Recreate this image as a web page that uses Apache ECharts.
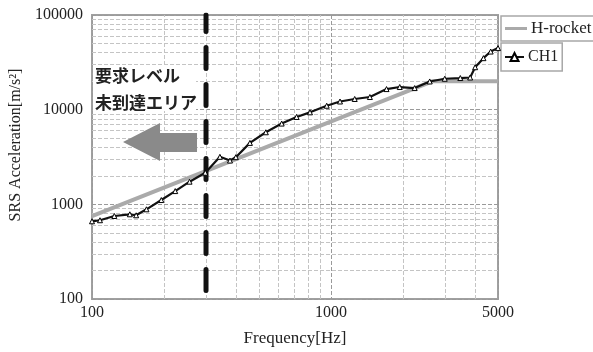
<!DOCTYPE html>
<html><head><meta charset="utf-8">
<script src="https://cdn.jsdelivr.net/npm/echarts@6/dist/echarts.min.js"></script>
<style>html,body{margin:0;padding:0;background:#fff}#c{width:593px;height:352px}</style>
</head><body><div id="c"></div>
<script>
// ---- data ----
const freqCH1 = [100, 108, 124, 144, 153, 169, 195, 223, 256, 298, 343, 378, 400, 458, 534, 622, 718, 817, 960, 1091, 1257, 1455, 1708, 1940, 2240, 2590, 2993, 3477, 3823, 4012, 4346, 4660, 5000];
const accCH1  = [662, 679, 753, 785, 766, 886, 1110, 1380, 1735, 2158, 3176, 2900, 3150, 4457, 5770, 7130, 8375, 9370, 11000, 12200, 12970, 13600, 16500, 17340, 16900, 19860, 21200, 21580, 21860, 28100, 35000, 41100, 44700];
const freqHR = [100, 2670, 5000];
const accHR  = [750, 20000, 20000];
const xTickLabels = [100, 1000, 5000];
const xMinor = [200, 300, 400, 500, 600, 700, 800, 900, 2000, 3000, 4000];
const yMinor = [200, 300, 400, 500, 600, 700, 800, 900, 2000, 3000, 4000, 5000, 6000, 7000, 8000, 9000, 20000, 30000, 40000, 50000, 60000, 70000, 80000, 90000];
const thresholdFreq = 300;
const noteLines = ['要求レベル', '未到達エリア'];
const seriesNames = ['H-rocket', 'CH1'];

// ---- chart ----
const chart = echarts.init(document.getElementById('c'), null, {renderer: 'canvas'});
const serif = '"Liberation Serif","Times New Roman",serif';
const zip = (xs, ys) => xs.map((x, i) => [x, ys[i]]);
const minorLines = xMinor.map(v => ({xAxis: v})).concat(yMinor.map(v => ({yAxis: v})));
const plain = v => String(Math.round(v));

const option = {
  animation: false,
  grid: {left: 92, right: 95, top: 15, bottom: 52, show: true, borderColor: '#a0a0a0', borderWidth: 2},
  xAxis: {
    type: 'log', logBase: 10, min: 100, max: 5000,
    axisLine: {show: false}, axisTick: {show: false},
    axisLabel: {customValues: xTickLabels, formatter: plain, fontFamily: serif, fontSize: 16, color: '#222', margin: 6},
    splitLine: {show: true, lineStyle: {color: '#9a9a9a', type: 'dashed', width: 1}},
    name: 'Frequency[Hz]', nameLocation: 'middle', nameGap: 31,
    nameTextStyle: {fontFamily: serif, fontSize: 17, color: '#222'}
  },
  yAxis: {
    type: 'log', logBase: 10, min: 100, max: 100000,
    axisLine: {show: false}, axisTick: {show: false},
    axisLabel: {formatter: plain, fontFamily: serif, fontSize: 16, color: '#222', margin: 9},
    splitLine: {show: true, lineStyle: {color: '#9a9a9a', type: 'dashed', width: 1}},
    name: 'SRS Acceleration[m/s²]', nameLocation: 'middle', nameGap: 68,
    nameTextStyle: {fontFamily: serif, fontSize: 16, color: '#222', padding: [0, 0, 0, 24]}
  },
  legend: [
    {data: [{name: seriesNames[0], icon: 'rect'}], left: 501, top: 16, orient: 'vertical', padding: [4, 8, 4, 4],
     borderColor: '#a8a8a8', borderWidth: 1.5, itemWidth: 22, itemHeight: 3, itemGap: 0,
     textStyle: {fontFamily: serif, fontSize: 17, color: '#222', padding: [0, 0, 0, -1]}},
    {data: [seriesNames[1]], left: 501, top: 43, orient: 'vertical', padding: [6, 4, 6, 3],
     borderColor: '#a8a8a8', borderWidth: 1.5, itemWidth: 19, itemHeight: 10, itemGap: 0,
     textStyle: {fontFamily: serif, fontSize: 16, color: '#222', padding: [0, 0, 0, -1]}}
  ],
  series: [
    {
      name: 'minor-grid', type: 'line', data: [], silent: true, z: 0,
      markLine: {silent: true, symbol: ['none', 'none'], label: {show: false}, z: 0,
        lineStyle: {color: '#c4c4c4', type: 'dashed', width: 1}, data: minorLines}
    },
    {
      name: seriesNames[0], type: 'line', data: zip(freqHR, accHR), symbol: 'none', z: 2,
      color: '#aaaaaa', itemStyle: {color: '#aaaaaa'}, lineStyle: {color: '#aaaaaa', width: 4}
    },
    {
      name: 'threshold', type: 'line', data: [[thresholdFreq, 100], [thresholdFreq, 100000]], symbol: 'none', z: 3, silent: true,
      lineStyle: {color: '#111', width: 5, type: [21, 16], dashOffset: 28.5, cap: 'round'}
    },
    {
      name: seriesNames[1], type: 'line', data: zip(freqCH1, accCH1), z: 4,
      symbol: 'triangle', symbolSize: 5, showAllSymbol: true,
      itemStyle: {color: '#fff', borderColor: '#000', borderWidth: 1},
      lineStyle: {color: '#111', width: 2.2}
    }
  ]
};
chart.setOption(option);

// annotation graphics, anchored to the threshold line position
const thr = chart.convertToPixel({gridIndex: 0}, [thresholdFreq, 100]);
const gl = chart.convertToPixel({gridIndex: 0}, [100, 100]);
const tx = thr[0];
const ay = 142;
chart.setOption({
  graphic: [
    {type: 'rect', shape: {x: gl[0] + 1, y: 66, width: tx - 11 - gl[0], height: 45}, style: {fill: '#fff'}, z: 1},
    {type: 'text', left: gl[0] + 3, top: 62, z: 5,
     style: {text: noteLines.join('\n'), fontFamily: '"Noto Sans CJK JP"', fontWeight: 'bold', fontSize: 17, lineHeight: 27, fill: '#222'}},
    {type: 'polygon', z: 5,
     shape: {points: [[tx - 83, ay], [tx - 46, ay - 19], [tx - 46, ay - 9], [tx - 9, ay - 9], [tx - 9, ay + 10], [tx - 46, ay + 10], [tx - 46, ay + 19]]},
     style: {fill: '#8a8a8a'}}
  ]
});
</script>
</body></html>
